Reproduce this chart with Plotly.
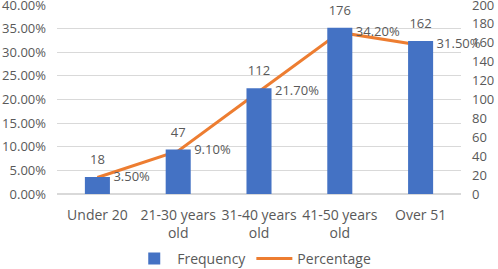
import plotly.graph_objects as go

categories = ["Under 20", "21-30 years<br>old", "31-40 years<br>old", "41-50 years<br>old", "Over 51"]
frequency = [18, 47, 112, 176, 162]
percentage = [3.5, 9.1, 21.7, 34.2, 31.5]
pct_labels = ["3.50%", "9.10%", "21.70%", "34.20%", "31.50%"]

FONT = "Open Sans"
GRAY = "#595959"

fig = go.Figure()
fig.add_trace(go.Bar(
    x=categories, y=frequency, name="Frequency", yaxis="y2",
    marker=dict(color="#4472C4", line=dict(width=0)), width=0.31,
))
fig.add_trace(go.Scatter(
    x=categories, y=percentage, name="Percentage", yaxis="y",
    mode="lines+markers+text", line=dict(color="#ED7D31", width=3),
    marker=dict(size=24, color="rgba(0,0,0,0)"),
    text=pct_labels, textposition="middle right",
    textfont=dict(family=FONT, size=13, color=GRAY), cliponaxis=False,
))
# bar value labels
fig.add_trace(go.Scatter(
    x=categories, y=frequency, yaxis="y2", showlegend=False, hoverinfo="skip",
    mode="markers+text", marker=dict(size=14, color="rgba(0,0,0,0)"),
    text=[str(v) for v in frequency], textposition="top center",
    textfont=dict(family=FONT, size=13, color=GRAY), cliponaxis=False,
))

fig.update_layout(
    width=498, height=269,
    margin=dict(l=57, r=37, t=5, b=75, autoexpand=False),
    paper_bgcolor="white", plot_bgcolor="white",
    font=dict(family=FONT, size=13, color=GRAY),
    showlegend=True,
    legend=dict(orientation="h", x=0.487, xanchor="center", y=-0.344, yanchor="middle",
                font=dict(family=FONT, size=14, color=GRAY), traceorder="normal",
                itemwidth=36),
    xaxis=dict(showgrid=False, showline=False, ticks="", ticklabelstandoff=11,
               automargin=False, tickfont=dict(size=14, color=GRAY)),
    yaxis=dict(range=[0, 40], dtick=5, tickformat=".2f", ticksuffix="%",
               showgrid=True, gridcolor="#D9D9D9", gridwidth=1, zeroline=True,
               zerolinecolor="#D9D9D9", showline=False, ticks="",
               ticklabeloverflow="allow", automargin=False, ticklabelstandoff=10,
               tickfont=dict(size=13, color=GRAY)),
    yaxis2=dict(range=[0, 200], dtick=20, overlaying="y", side="right",
                showgrid=False, zeroline=False, showline=False, ticks="",
                ticklabeloverflow="allow", automargin=False, ticklabelstandoff=10,
                tickfont=dict(size=13, color=GRAY)),
)

fig.write_html("out.html", config={"displayModeBar": False},
               post_script="document.body.style.margin='0';")
